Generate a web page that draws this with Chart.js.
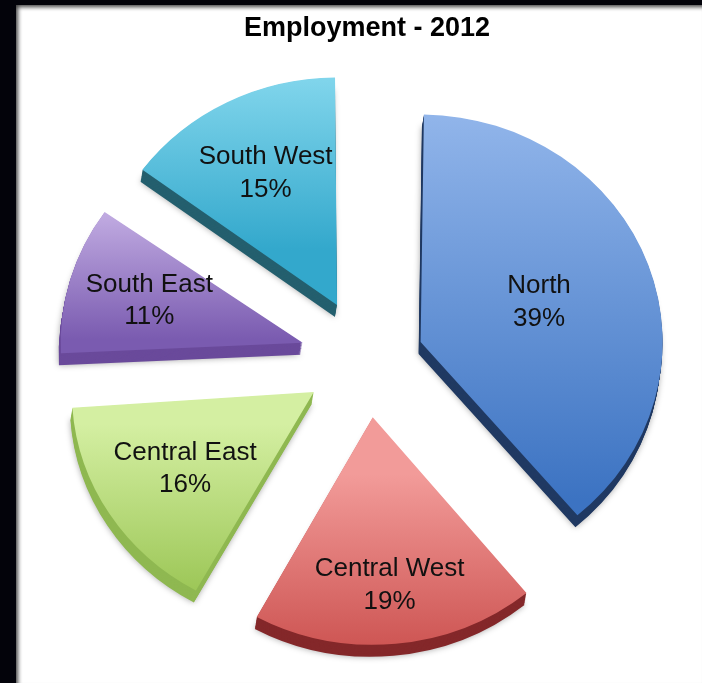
<!DOCTYPE html>
<html>
<head>
<meta charset="utf-8">
<script src="https://cdn.jsdelivr.net/npm/chart.js@4/dist/chart.umd.min.js"></script>
<style>
  html, body { margin: 0; padding: 0; width: 702px; height: 683px; overflow: hidden; background: #03030a; }
  #frame { position: absolute; left: 16px; top: 5px; width: 686px; height: 678px; background: #fff;
           box-shadow: inset 3px 3px 4px -1px rgba(0,0,0,0.75); }
  canvas { display: block; }
</style>
</head>
<body>
<div id="frame"><canvas id="chart" width="686" height="678"></canvas></div>
<script>
// Employment share by region, 2012
const chartTitle = 'Employment - 2012';
const regions = ['North', 'Central West', 'Central East', 'South East', 'South West'];
const shares = [39, 19, 16, 11, 15];

// Slice styling
const topColors    = ['#95b8ec', '#f29b99', '#d4efa2', '#cdb9ea', '#9ae4f6'];
const bottomColors = ['#3c73c2', '#c23f3d', '#92bf49', '#7a5bb0', '#33a8cc'];
const sideColors   = ['#213a63', '#84282a', '#8fb851', '#6a4a9b', '#245f6e'];
const explodePx    = [57, 61, 63, 67, 66];          // how far each slice is pulled out
const labelDepth   = [0.52, 0.74, 0.63, 0.66, 0.65]; // label distance, fraction of radius
const RADIUS = 242;
const TILT = 0.94;                 // vertical squash for the tilted look
const DEPTH = { x: -2, y: 12 };    // thickness of the extruded pie

const FONT = '"Liberation Sans", Arial, Helvetica, sans-serif';

// Tilt, gradient faces, extruded sides and in-slice labels
const pie3d = {
  id: 'pie3d',
  afterDatasetsUpdate(chart) {
    // keep every slice at the same drawn radius once it is pulled out
    chart.getDatasetMeta(0).data.forEach(arc => {
      const t = (arc.options.offset || 0) / 4;
      const fix = 1 - Math.sin(Math.min(Math.PI, arc.circumference));
      arc.outerRadius = RADIUS - t * fix;
    });
  },
  beforeDatasetsDraw(chart) {
    const ctx = chart.ctx;
    const arcs = chart.getDatasetMeta(0).data;
    if (!arcs.length) return;
    const cx = arcs[0].x, cy = arcs[0].y;
    ctx.save();
    ctx.translate(cx, cy);
    ctx.scale(1, TILT);
    ctx.translate(-cx, -cy);

    arcs.forEach((arc, i) => {
      const t = (arc.options.offset || 0) / 4;
      const mid = (arc.startAngle + arc.endAngle) / 2;
      const vy = arc.y + Math.sin(mid) * t;
      let lo = vy, hi = vy;
      for (let s = 0; s <= 40; s++) {
        const a = arc.startAngle + (arc.endAngle - arc.startAngle) * s / 40;
        const y = vy + Math.sin(a) * RADIUS;
        lo = Math.min(lo, y); hi = Math.max(hi, y);
      }
      const g = ctx.createLinearGradient(0, lo, 0, hi);
      g.addColorStop(0, topColors[i]);
      g.addColorStop(1, bottomColors[i]);
      arc.options = Object.assign({}, arc.options, { backgroundColor: g });
    });

    const steps = 13;
    for (let k = steps; k >= 1; k--) {
      arcs.forEach((arc, i) => {
        const face = arc.options;
        arc.options = Object.assign({}, face, { backgroundColor: sideColors[i], borderWidth: 0 });
        ctx.save();
        ctx.translate(DEPTH.x * k / steps, DEPTH.y / TILT * k / steps);
        if (k === steps) {
          ctx.shadowColor = 'rgba(0,0,0,0.35)';
          ctx.shadowBlur = 6;
        }
        arc.draw(ctx);
        ctx.restore();
        arc.options = face;
      });
    }
  },
  afterDatasetsDraw(chart) {
    const ctx = chart.ctx;
    const arcs = chart.getDatasetMeta(0).data;
    if (!arcs.length) return;
    ctx.restore();
    const names = chart.data.labels;
    const values = chart.data.datasets[0].data;
    ctx.save();
    ctx.font = '26px ' + FONT;
    ctx.fillStyle = '#111';
    ctx.textAlign = 'center';
    ctx.textBaseline = 'middle';
    arcs.forEach((arc, i) => {
      const t = (arc.options.offset || 0) / 4;
      const mid = (arc.startAngle + arc.endAngle) / 2;
      const d = t + labelDepth[i] * RADIUS;
      const x = arc.x + Math.cos(mid) * d;
      const y = arc.y + Math.sin(mid) * d * TILT;
      ctx.fillText(names[i], x, y - 16);
      ctx.fillText(values[i] + '%', x, y + 16.5);
    });
    ctx.restore();
  }
};

new Chart(document.getElementById('chart'), {
  type: 'pie',
  data: {
    labels: regions,
    datasets: [{
      data: shares,
      backgroundColor: topColors,
      borderWidth: 0,
      offset: explodePx.map(v => v * 4),
      clip: false
    }]
  },
  options: {
    responsive: false,
    animation: false,
    events: [],
    radius: RADIUS,
    layout: { padding: { left: 16, right: 0, top: 0, bottom: 7 } },
    plugins: {
      legend: { display: false },
      tooltip: { enabled: false },
      title: {
        display: true,
        text: chartTitle,
        color: '#000',
        font: { family: FONT, size: 27, weight: 'bold', lineHeight: 1.2 },
        padding: { top: 7, bottom: 0 }
      }
    }
  },
  plugins: [pie3d]
});
</script>
</body>
</html>
